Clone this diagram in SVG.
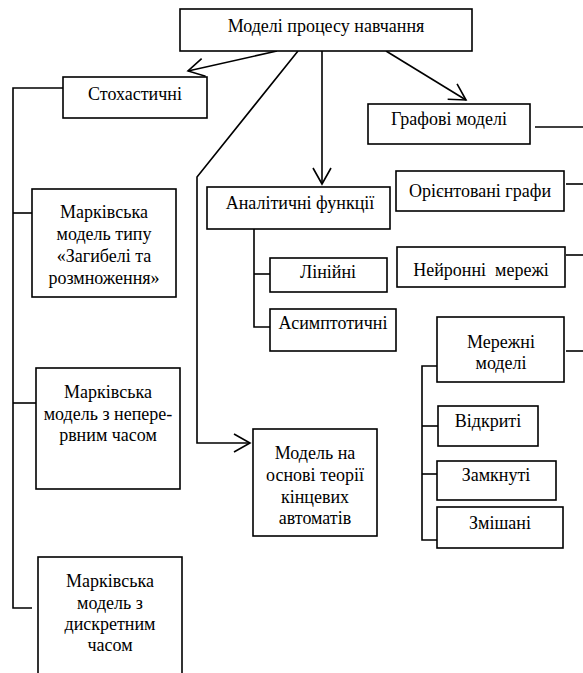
<svg xmlns="http://www.w3.org/2000/svg" width="583" height="673" viewBox="0 0 583 673" font-family="'Liberation Serif', 'Times New Roman', serif">
<style>
.b{fill:#fff;stroke:#000;stroke-width:1.6}
.l{fill:none;stroke:#000;stroke-width:1.6}
text{font-family:'Liberation Serif','Times New Roman',serif;font-size:18px;fill:#000;text-anchor:middle}
</style>
<defs>
<marker id="a" viewBox="-17 -10 19 20" refX="0" refY="0" markerWidth="19" markerHeight="20" markerUnits="userSpaceOnUse" orient="auto">
<path d="M-16,-9 L0,0 L-16,9" fill="none" stroke="#000" stroke-width="1.6"/>
</marker>
</defs>
<g id="connectors">
<path class="l" d="M277,51 L188,71" marker-end="url(#a)"/>
<path class="l" d="M322,51 L322,184" marker-end="url(#a)"/>
<path class="l" d="M386,51 L466,100" marker-end="url(#a)"/>
<path class="l" d="M298,51 L197,177 L197,443 L250,443" marker-end="url(#a)"/>
<path class="l" d="M63,88 L13,88 L13,608 L32,608"/>
<path class="l" d="M13,213 L32,213"/>
<path class="l" d="M13,403 L36,403"/>
<path class="l" d="M254,229 L254,327 L270,327"/>
<path class="l" d="M254,274 L270,274"/>
<path class="l" d="M535,127 L583,127"/>
<path class="l" d="M566,184 L583,184"/>
<path class="l" d="M566,255 L583,255"/>
<path class="l" d="M566,351 L583,351"/>
<path class="l" d="M437,366 L422,366 L422,540 L437,540"/>
<path class="l" d="M422,426 L438,426"/>
<path class="l" d="M422,474 L437,474"/>
</g>
<g id="n-main"><rect class="b" x="180" y="9" width="292" height="42"/><text x="326" y="32">Моделі процесу навчання</text></g>
<g id="n-stoch"><rect class="b" x="63" y="77" width="144" height="41"/><text x="135" y="100">Стохастичні</text></g>
<g id="n-markov1"><rect class="b" x="32" y="189" width="144" height="108"/><text x="104" y="218">Марківська</text><text x="104" y="240">модель типу</text><text x="104" y="262">«Загибелі та</text><text x="104" y="284">розмноження»</text></g>
<g id="n-markov2"><rect class="b" x="36" y="368" width="144" height="121"/><text x="108" y="398">Марківська</text><text x="108" y="420">модель з непере-</text><text x="108" y="441">рвним часом</text></g>
<g id="n-markov3"><rect class="b" x="38" y="557" width="144" height="130"/><text x="110" y="587">Марківська</text><text x="110" y="609">модель з</text><text x="110" y="630">дискретним</text><text x="110" y="651">часом</text></g>
<g id="n-analytic"><rect class="b" x="207" y="187" width="183" height="42"/><text x="300" y="209">Аналітичні функції</text></g>
<g id="n-linear"><rect class="b" x="270" y="258" width="117" height="34"/><text x="328" y="278">Лінійні</text></g>
<g id="n-asympt"><rect class="b" x="270" y="309" width="126" height="42"/><text x="333" y="329">Асимптотичні</text></g>
<g id="n-automata"><rect class="b" x="253" y="429" width="124" height="107"/><text x="315" y="459">Модель на</text><text x="315" y="481">основі теорії</text><text x="315" y="503">кінцевих</text><text x="315" y="524">автоматів</text></g>
<g id="n-graph"><rect class="b" x="368" y="104" width="162" height="40"/><text x="449" y="125">Графові моделі</text></g>
<g id="n-oriented"><rect class="b" x="396" y="171" width="168" height="40"/><text x="480" y="197">Орієнтовані графи</text></g>
<g id="n-neural"><rect class="b" x="397" y="247" width="168" height="40"/><text x="481" y="276" xml:space="preserve">Нейронні  мережі</text></g>
<g id="n-network"><rect class="b" x="437" y="317" width="127" height="65"/><text x="501" y="348">Мережні</text><text x="501" y="369">моделі</text></g>
<g id="n-open"><rect class="b" x="438" y="406" width="100" height="40"/><text x="488" y="427">Відкриті</text></g>
<g id="n-closed"><rect class="b" x="437" y="461" width="119" height="39"/><text x="496" y="481">Замкнуті</text></g>
<g id="n-mixed"><rect class="b" x="437" y="507" width="126" height="41"/><text x="500" y="529">Змішані</text></g>
</svg>
